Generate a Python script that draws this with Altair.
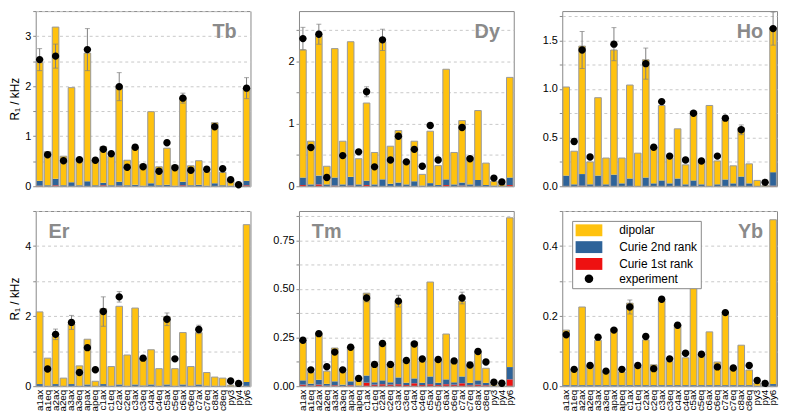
import altair as alt
import pandas as pd

CATS = ["a1ax", "a1eq", "a2ax", "a2eq", "a3ax", "a3eq", "apax", "apeq", "c1ax", "c1eq",
        "c2ax", "c2eq", "c3ax", "c3eq", "c4ax", "c4eq", "c5ax", "c5eq", "c6ax", "c6eq",
        "c7ax", "c7eq", "c8ax", "c8eq", "py3", "py4", "py6"]

SERIES = ["dipolar", "Curie 2nd rank", "Curie 1st rank", "experiment"]
COLORS = ["#FFC20E", "#2E6399", "#EE1111", "#000000"]

# ---- Tb ----
TB_DIP = [2.36, 0.67, 3.03, 0.58, 1.89, 0.54, 2.56, 0.51, 0.72, 0.58, 1.92, 0.50, 0.73, 0.43,
          1.43, 0.37, 0.73, 0.41, 1.69, 0.39, 0.48, 0.28, 1.21, 0.26, 0.12, 0.05, 1.85]
TB_C2 = [0.10, 0.02, 0.13, 0.02, 0.08, 0.02, 0.10, 0.02, 0.05, 0.02, 0.08, 0.02, 0.03, 0.01,
         0.06, 0.02, 0.03, 0.01, 0.07, 0.02, 0.03, 0.01, 0.06, 0.02, 0.01, 0.00, 0.09]
TB_C1 = [0.01, 0.0, 0.02, 0.0, 0.0, 0.0, 0.0, 0.0, 0.02, 0.0, 0.01, 0.0, 0.0, 0.0,
         0.0, 0.0, 0.0, 0.0, 0.02, 0.0, 0.0, 0.0, 0.0, 0.0, 0.0, 0.0, 0.02]
TB_EXP = [2.53, 0.63, 2.60, 0.51, None, 0.53, 2.73, 0.52, 0.74, 0.65, 1.99, 0.38, 0.78, 0.39,
          None, 0.30, 0.87, 0.37, 1.76, 0.32, None, 0.34, 1.19, 0.35, 0.13, 0.03, 1.96]
TB_ERR = [0.22, 0, 0.24, 0, 0, 0, 0.42, 0, 0, 0, 0.28, 0, 0, 0,
          0, 0, 0, 0, 0.10, 0, 0, 0, 0.04, 0, 0, 0, 0.21]

# ---- Dy ----
DY_DIP = [2.04, 0.69, 2.23, 0.29, 2.06, 0.69, 2.16, 0.41, 1.24, 0.51, 2.20, 0.60, 0.83, 0.37,
          0.64, 0.18, 0.83, 0.31, 1.76, 0.51, 0.99, 0.44, 1.11, 0.35, 0.07, 0.03, 1.60]
DY_C2 = [0.12, 0.03, 0.14, 0.03, 0.13, 0.03, 0.14, 0.03, 0.07, 0.03, 0.11, 0.04, 0.06, 0.03,
         0.08, 0.01, 0.05, 0.02, 0.09, 0.03, 0.05, 0.03, 0.10, 0.02, 0.01, 0.0, 0.12]
DY_C1 = [0.02, 0.0, 0.03, 0.0, 0.01, 0.0, 0.01, 0.0, 0.02, 0.0, 0.0, 0.0, 0.0, 0.0,
         0.0, 0.0, 0.0, 0.0, 0.02, 0.0, 0.01, 0.0, 0.0, 0.0, 0.0, 0.0, 0.02]
DY_EXP = [2.36, 0.62, 2.43, 0.14, None, 0.49, None, 0.55, 1.51, 0.31, 2.34, 0.42, 0.80, 0.39,
          0.59, 0.32, 0.97, 0.42, None, None, 0.94, 0.44, None, None, 0.13, 0.07, None]
DY_ERR = [0.18, 0, 0.16, 0, 0, 0, 0, 0, 0.08, 0, 0.17, 0, 0, 0,
          0, 0, 0, 0, 0, 0, 0.03, 0, 0, 0, 0, 0, 0]

# ---- Ho ----
HO_DIP = [0.91, 0.34, 1.315, 0.23, 0.80, 0.27, 1.28, 0.26, 0.96, 0.34, 1.21, 0.37, 0.77, 0.26,
          0.51, 0.20, 0.71, 0.23, 0.83, 0.24, 0.61, 0.18, 0.50, 0.20, 0.06, 0.01, 1.485]
HO_C2 = [0.11, 0.02, 0.12, 0.02, 0.11, 0.02, 0.12, 0.03, 0.08, 0.0, 0.09, 0.03, 0.06, 0.03,
         0.08, 0.02, 0.06, 0.02, 0.0, 0.02, 0.07, 0.03, 0.10, 0.03, 0.0, 0.0, 0.14]
HO_C1 = [0.0, 0.0, 0.005, 0.0, 0.0, 0.0, 0.0, 0.0, 0.0, 0.0, 0.0, 0.0, 0.0, 0.0,
         0.0, 0.0, 0.0, 0.0, 0.0, 0.0, 0.0, 0.0, 0.0, 0.0, 0.0, 0.0, 0.005]
HO_EXP = [None, 0.46, 1.40, 0.30, None, None, 1.46, None, None, None, 1.26, 0.40, 0.87, 0.31,
          None, 0.27, 0.75, 0.26, None, 0.31, 0.70, None, 0.58, None, None, 0.04, 1.62]
HO_ERR = [0, 0.03, 0.19, 0, 0, 0, 0.17, 0, 0, 0, 0.16, 0, 0, 0,
          0, 0, 0, 0, 0, 0, 0, 0, 0.05, 0, 0, 0, 0.17]

# ---- Er ----
ER_DIP = [2.06, 0.79, 1.36, 0.23, 1.71, 0.57, 1.29, 0.14, 2.15, 0.55, 2.23, 0.88, 2.18, 0.76,
          0.99, 0.49, 1.93, 0.49, 1.48, 0.55, 1.48, 0.38, 0.25, 0.22, 0.03, 0.01, 4.49]
ER_C2 = [0.06, 0.01, 0.06, 0.0, 0.06, 0.01, 0.05, 0.0, 0.06, 0.01, 0.05, 0.01, 0.05, 0.02,
         0.05, 0.01, 0.05, 0.01, 0.05, 0.01, 0.05, 0.01, 0.01, 0.01, 0.0, 0.0, 0.12]
ER_C1 = [0.0] * 27
ER_EXP = [None, 0.49, 1.48, None, 1.82, 0.39, 1.10, 0.47, 2.13, None, 2.55, None, None, 0.80,
          None, None, 1.91, 0.78, None, None, 1.62, None, None, None, 0.15, 0.08, None]
ER_ERR = [0, 0, 0.15, 0, 0.20, 0, 0, 0, 0.42, 0, 0.15, 0, 0, 0,
          0, 0, 0.18, 0, 0, 0, 0.12, 0, 0, 0, 0, 0, 0]

# ---- Tm ----
TM_DIP = [0.196, 0.058, 0.240, 0.065, 0.171, 0.066, 0.178, 0.025, 0.423, 0.087, 0.189, 0.094,
          0.392, 0.106, 0.187, 0.110, 0.485, 0.117, 0.233, 0.102, 0.387, 0.092, 0.148, 0.075,
          0.008, 0.003, 0.767]
TM_C2 = [0.022, 0.010, 0.025, 0.010, 0.020, 0.007, 0.020, 0.003, 0.037, 0.012, 0.020, 0.012,
         0.035, 0.012, 0.025, 0.012, 0.040, 0.012, 0.025, 0.012, 0.035, 0.012, 0.022, 0.012,
         0.002, 0.0, 0.063]
TM_C1 = [0.008, 0.003, 0.008, 0.002, 0.005, 0.001, 0.005, 0.0, 0.018, 0.008, 0.010, 0.008,
         0.010, 0.006, 0.015, 0.006, 0.010, 0.006, 0.010, 0.008, 0.015, 0.005, 0.008, 0.005,
         0.0, 0.0, 0.035]
TM_EXP = [0.236, 0.084, 0.270, 0.100, 0.175, 0.084, 0.200, 0.040, 0.453, 0.112, 0.219, 0.112,
          0.437, 0.132, 0.217, 0.140, None, 0.137, None, 0.130, 0.453, 0.109, 0.178, 0.124,
          0.020, 0.015, None]
TM_ERR = [0, 0, 0, 0, 0, 0, 0, 0, 0.02, 0, 0, 0, 0.03, 0,
          0, 0, 0, 0, 0, 0, 0.03, 0, 0.01, 0, 0, 0, 0]

# ---- Yb ----
YB_DIP = [0.157, 0.042, 0.223, 0.055, 0.128, 0.038, 0.161, 0.038, 0.234, 0.052, 0.129, 0.058,
          0.241, 0.068, 0.174, 0.078, 0.289, 0.086, 0.152, 0.066, 0.204, 0.047, 0.114, 0.043,
          0.008, 0.002, 0.469]
YB_C2 = [0.003, 0.003, 0.003, 0.003, 0.003, 0.003, 0.003, 0.003, 0.003, 0.003, 0.003, 0.003,
         0.003, 0.003, 0.003, 0.003, 0.003, 0.003, 0.003, 0.003, 0.003, 0.003, 0.003, 0.003,
         0.001, 0.001, 0.006]
YB_C1 = [0.0] * 27
YB_EXP = [0.147, 0.048, None, 0.059, 0.140, 0.043, 0.160, 0.048, 0.226, 0.059, 0.142, 0.050,
          0.248, 0.078, 0.174, 0.094, None, 0.091, None, 0.055, 0.210, 0.052, None, 0.059,
          0.016, 0.008, None]
YB_ERR = [0, 0, 0, 0, 0, 0, 0, 0, 0.02, 0, 0, 0, 0, 0,
          0.008, 0, 0, 0, 0, 0, 0, 0, 0, 0, 0, 0, 0]

W, H = 217, 177
FONT = "Liberation Sans"
LEG_SYM = 144   # legend symbol size -> unit scale 6 px
PT_SIZE = 108   # chart point size -> unit scale ~5.2 px
RECT = "M-2.25,-1H2.25V1H-2.25Z"
CIRC = "M-0.72,0A0.72,0.72 0 1,0 0.72,0A0.72,0.72 0 1,0 -0.72,0Z"
SHAPES = [RECT, RECT, RECT, CIRC]


def panel(name, dip, c2, c1, exp, err, ymax, grid_step, label_step, fmt,
          bottom, ytitle, label_left, legend):
    rows = []
    for i, c in enumerate(CATS):
        rows.append({"cat": c, "series": "Curie 1st rank", "ord": 0, "value": c1[i]})
        rows.append({"cat": c, "series": "Curie 2nd rank", "ord": 1, "value": c2[i]})
        rows.append({"cat": c, "series": "dipolar", "ord": 2, "value": dip[i]})
    bars_df = pd.DataFrame(rows)
    ex_df = pd.DataFrame({"cat": CATS, "exp": exp, "err": err})
    ex_df["series"] = "experiment"

    n = int(round(ymax / grid_step))
    vals = [round(k * grid_step, 5) for k in range(n + 1)]
    lab = (f"abs(datum.value/{label_step} - round(datum.value/{label_step})) < 0.001 "
           f"? format(datum.value, '{fmt}') : ''")
    yscale = alt.Scale(domain=[0, ymax], nice=False, zero=True)

    if bottom:
        xaxis = alt.Axis(title=None, labelAngle=-90, labelFontSize=10, ticks=False,
                         domain=False, labelPadding=3, labelColor="black",
                         labelOverlap=False)
    else:
        xaxis = None
    xenc = alt.X("cat:N", sort=CATS, axis=xaxis,
                 scale=alt.Scale(paddingInner=0.17, paddingOuter=0.08))

    if legend:
        leg = alt.Legend(
            title=None, orient="none", legendX=10, legendY=10, direction="vertical",
            symbolSize=LEG_SYM, symbolOffset=7.5, symbolStrokeColor="#888888",
            symbolStrokeWidth=1, symbolOpacity=1, labelFontSize=12, labelColor="black",
            labelFont=FONT, rowPadding=0, padding=3, strokeColor="#888888",
            fillColor="white", labelOffset=24)
    else:
        leg = None
    cscale = alt.Scale(domain=SERIES, range=COLORS)
    shscale = alt.Scale(domain=SERIES, range=SHAPES)

    yaxis = alt.Axis(values=vals, labelExpr=lab, title=("R₁ / kHz" if ytitle else None),
                     grid=True, gridDash=[3, 3], gridColor="#c8c8c8", domain=False,
                     tickSize=3, tickColor="#888888", labelFontSize=11, labelColor="black",
                     labelPadding=2, titleFontSize=12, titleFontWeight="normal",
                     titlePadding=3, titleColor="black")

    def Y(field, **kw):
        return alt.Y(field, scale=yscale, axis=yaxis, **kw)

    bars = alt.Chart(bars_df).mark_bar(strokeWidth=0).encode(
        x=xenc,
        y=Y("value:Q", stack="zero"),
        color=alt.Color("series:N", scale=cscale, legend=leg),
        order=alt.Order("ord:Q"),
    )
    outline = alt.Chart(bars_df).mark_bar(fillOpacity=0, stroke="#999999", strokeWidth=1).encode(
        x=xenc,
        y=Y("sum(value):Q"),
    )
    ebase = alt.Chart(ex_df).transform_filter("isValid(datum.exp) && datum.err > 0").transform_calculate(
        lo="datum.exp - datum.err", hi="datum.exp + datum.err")
    rule = ebase.mark_rule(color="#808080", strokeWidth=1).encode(
        x=xenc, y=Y("lo:Q"), y2="hi:Q",
    )
    cap_lo = ebase.mark_tick(color="#808080", thickness=1, size=5).encode(
        x=xenc, y=Y("lo:Q"))
    cap_hi = ebase.mark_tick(color="#808080", thickness=1, size=5).encode(
        x=xenc, y=Y("hi:Q"))
    pts = alt.Chart(ex_df).transform_filter("isValid(datum.exp)").mark_point(
        filled=True, opacity=1, strokeWidth=0, size=PT_SIZE).encode(
        x=xenc,
        y=Y("exp:Q"),
        color=alt.Color("series:N", scale=cscale, legend=leg),
        shape=alt.Shape("series:N", scale=shscale, legend=leg),
    )
    txt = alt.Chart(pd.DataFrame({"label": [name]})).mark_text(
        fontSize=20, fontWeight="bold", color="#8a8a8a", font=FONT,
        align=("left" if label_left else "right"), baseline="alphabetic").encode(
        text="label:N",
        x=alt.value(13 if label_left else W - 14),
        y=alt.value(27),
    )
    return alt.layer(bars, outline, rule, cap_lo, cap_hi, pts, txt).properties(width=W, height=H)


panels = [
    panel("Tb", TB_DIP, TB_C2, TB_C1, TB_EXP, TB_ERR, 3.5, 0.5, 1, ".0f", False, True, False, False),
    panel("Dy", DY_DIP, DY_C2, DY_C1, DY_EXP, DY_ERR, 2.8, 0.5, 1, ".0f", False, False, False, False),
    panel("Ho", HO_DIP, HO_C2, HO_C1, HO_EXP, HO_ERR, 1.8, 0.25, 0.5, ".1f", False, False, False, False),
    panel("Er", ER_DIP, ER_C2, ER_C1, ER_EXP, ER_ERR, 5.0, 1, 2, ".0f", True, True, True, False),
    panel("Tm", TM_DIP, TM_C2, TM_C1, TM_EXP, TM_ERR, 0.9, 0.125, 0.25, ".2f", True, False, True, False),
    panel("Yb", YB_DIP, YB_C2, YB_C1, YB_EXP, YB_ERR, 0.5, 0.1, 0.2, ".1f", True, False, False, True),
]

chart = alt.concat(*panels, columns=3, spacing={"row": 25, "column": 49}, bounds="flush").resolve_scale(
    color="independent", shape="independent", y="independent", x="independent"
).resolve_legend(color="independent", shape="independent").properties(
    padding={"left": 0, "top": 0, "right": 0, "bottom": 0}
).configure(font=FONT).configure_view(stroke="#888888", strokeWidth=1)

chart.save("out.html", embed_options={"renderer": "svg", "actions": False})
